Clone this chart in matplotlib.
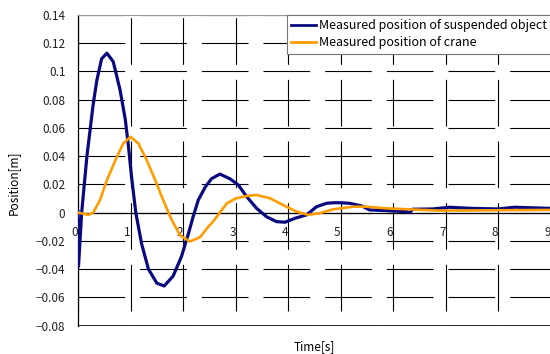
import matplotlib
matplotlib.use("Agg")
import matplotlib.pyplot as plt

plt.rcParams['font.family'] = ['Noto Sans CJK JP', 'DejaVu Sans']
plt.rcParams['axes.unicode_minus'] = True

# suspended object
obj_t = [0.0, 0.01, 0.07, 0.17, 0.29, 0.36, 0.45, 0.55, 0.67, 0.80, 0.90, 0.96,
         1.02, 1.10, 1.21, 1.34, 1.50, 1.64, 1.81, 1.97, 2.10, 2.19, 2.29, 2.42,
         2.54, 2.70, 2.89, 3.05, 3.21, 3.40, 3.59, 3.78, 3.94, 4.13, 4.35, 4.54,
         4.73, 4.86, 4.98, 5.17, 5.40, 5.55, 5.87, 6.25, 6.31, 6.37, 6.75, 7.07,
         7.5, 8.0, 8.3, 9.0]
obj_y = [0.0007, -0.038, 0.0, 0.040, 0.077, 0.094, 0.109, 0.113, 0.107, 0.087, 0.066, 0.047,
         0.025, 0.0, -0.022, -0.040, -0.050, -0.052, -0.045, -0.031, -0.015, -0.003, 0.009, 0.018,
         0.024, 0.0273, 0.024, 0.0196, 0.0113, 0.003, -0.003, -0.0064, -0.0068, -0.004, -0.0016, 0.0042,
         0.0066, 0.007, 0.007, 0.0066, 0.0047, 0.0019, 0.0014, 0.0007, 0.0, 0.0024, 0.0026, 0.0038,
         0.0030, 0.0026, 0.0038, 0.0030]

# crane
crane_t = [0.0, 0.2, 0.29, 0.42, 0.55, 0.71, 0.86, 1.0, 1.15, 1.31, 1.47, 1.62,
           1.78, 1.94, 2.13, 2.32, 2.48, 2.57, 2.83, 3.0, 3.21, 3.40, 3.65, 3.90,
           4.16, 4.38, 4.60, 4.86, 5.24, 5.49, 5.87, 6.25, 6.88, 9.0]
crane_y = [0.0, -0.0016, 0.0, 0.009, 0.023, 0.037, 0.049, 0.0537, 0.049, 0.037, 0.023, 0.009,
           -0.005, -0.016, -0.0205, -0.0175, -0.010, -0.0064, 0.0065, 0.0100, 0.0118, 0.0125, 0.0102, 0.0054,
           0.0007, -0.0016, -0.0004, 0.0024, 0.0042, 0.0042, 0.003, 0.0024, 0.0014, 0.0019]

xticks = list(range(0, 10))
yticks = [-0.08, -0.06, -0.04, -0.02, 0, 0.02, 0.04, 0.06, 0.08, 0.1, 0.12, 0.14]
ytick_labels = ['\u22120.08', '\u22120.06', '\u22120.04', '\u22120.02', '0', '0.02',
                '0.04', '0.06', '0.08', '0.1', '0.12', '0.14']

fig = plt.figure(figsize=(5.5, 3.54), dpi=100)
ax = fig.add_axes([0.1418, 0.0805, 0.86, 0.877])

ax.plot(obj_t, obj_y, color='#0a0a80', lw=2.3, label='Measured position of suspended object', zorder=3)
ax.plot(crane_t, crane_y, color='#ff9c00', lw=1.9, label='Measured position of crane', zorder=4)

ax.set_xlim(0, 9)
ax.set_ylim(-0.08, 0.14)
ax.set_xticks(xticks)
ax.set_yticks(yticks)
ax.set_yticklabels(ytick_labels)

# dashed grid like the spreadsheet original (dash ~47px, gap ~15px)
lw = 0.8
ax.yaxis.grid(True, color='black', lw=lw, linestyle=(0, (42, 13.5)))
ax.xaxis.grid(True, color='black', lw=lw, linestyle=(42, (42, 13.5)))
ax.set_axisbelow(True)

ax.spines['bottom'].set_position(('data', 0))
ax.spines['bottom'].set_linewidth(0.9)
ax.spines['left'].set_linewidth(0.9)
ax.spines['top'].set_color('#999999')
ax.spines['right'].set_visible(False)
ax.axhline(-0.08, color='black', lw=1.2, zorder=2)

ax.tick_params(axis='both', length=0, labelsize=8.5, colors='#222222')
ax.tick_params(axis='x', pad=10)
ax.tick_params(axis='y', pad=9)
for lab in ax.get_xticklabels():
    lab.set_horizontalalignment('right')

ax.set_ylabel('Position[m]', fontsize=8.5)
ax.yaxis.set_label_coords(-0.123, 0.46)
ax.set_xlabel('Time[s]', fontsize=8.5)
ax.xaxis.set_label_coords(0.499, -0.047)

leg = ax.legend(loc='upper right', bbox_to_anchor=(1.0, 1.0), borderaxespad=0,
                fontsize=9, fancybox=False, framealpha=1, edgecolor='#777777',
                handlelength=2.0, handletextpad=0.2, labelspacing=0.3, borderpad=0.35)
leg.get_frame().set_linewidth(0.8)
for line in leg.get_lines():
    line.set_linewidth(2.0)

fig.savefig('out.png', dpi=100)
